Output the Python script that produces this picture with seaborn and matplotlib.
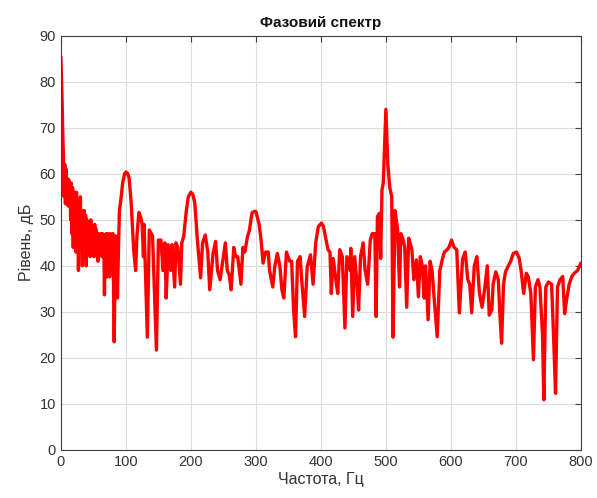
import numpy as np
import pandas as pd
import matplotlib
matplotlib.use("Agg")
import matplotlib.pyplot as plt
import seaborn as sns

# Values (frequency, Hz / level, dB)
freq = [
    0, 2, 3, 4, 5, 6, 7, 8, 9, 10, 11, 12, 13, 14, 15, 16, 17, 18, 19, 20,
    21, 22, 23, 24, 25, 26, 27, 28, 29, 30, 31, 32, 33, 34, 35, 36, 37, 38, 39, 40,
    41, 42, 43, 44, 45, 46, 47, 48, 49, 50, 51, 52, 53, 54, 55, 56, 57, 58, 59, 60,
    61, 62, 63, 64, 65, 66, 67, 68, 69, 70, 71, 72, 73, 74, 75, 76, 77, 78, 79, 80,
    81, 82, 83, 84, 85, 86, 87, 88, 90, 92, 95, 98, 100,
    103, 105, 108, 112, 115, 117, 120, 123, 125, 127, 128, 133, 136, 141, 147, 150, 154, 157, 160, 162,
    165, 169, 171, 175, 177, 180, 184, 186, 189, 193, 196, 200, 203, 206, 210, 215, 218, 222, 226, 229,
    234, 238, 241, 245, 248, 253, 256, 259, 262, 266, 269, 272, 277, 280, 283, 287, 290, 294, 297, 300,
    305, 308, 311, 315, 319, 321, 326, 329, 333, 337, 340, 343, 347, 352, 355, 358, 361, 364, 368, 371,
    375, 379, 384, 388, 392, 396, 401, 404, 407, 411, 414, 416, 419, 423, 426, 429, 433, 437, 440, 445,
    446, 449, 452, 456, 458, 461, 465, 468, 472, 476, 479, 483, 485, 487, 490, 492, 494, 496, 500, 503,
    506, 509, 511, 514, 518, 521, 523, 526, 529, 532, 535, 538, 540, 543, 547, 550, 553, 556, 559, 561,
    565, 568, 571, 575, 579, 583, 587, 590, 594, 597, 601, 605, 609, 613, 618, 622, 626, 629, 632, 636,
    640, 644, 648, 652, 656, 659, 663, 665, 669, 673, 675, 678, 681, 684, 688, 692, 696, 701, 705, 708,
    712, 716, 719, 723, 727, 730, 734, 737, 741, 743, 746, 750, 755, 758, 761, 764, 768, 772, 775, 778,
    782, 786, 790, 795, 800,
]
level = [
    85.4, 75, 68, 63.5, 55, 62, 53.5, 61, 55, 59, 53, 58.7, 55, 58, 50, 58, 47, 57, 44, 56,
    50, 55, 43, 56, 47, 54, 39, 53, 45, 55, 44, 52, 40, 51.5, 42, 52, 46, 51, 40, 50,
    44, 49, 43, 49, 42, 50, 45, 48, 43, 48, 42, 49, 44, 48, 43, 47, 41, 47, 43, 46,
    45, 47, 42, 47, 44, 46, 33.7, 46.7, 38, 47, 37.6, 47, 40, 46, 37.6, 47, 39, 46, 40, 47,
    36, 23.5, 35, 46.5, 40, 46, 33, 40, 52, 54, 58, 60, 60.4,
    60, 59, 54, 43.5, 39, 46.5, 51.6, 50.5, 49, 42, 49, 24.5, 47.8, 46.5, 21.7, 45.6, 45.6, 39, 45, 33,
    44.6, 39, 44.6, 35.4, 45, 44, 36, 45, 46.4, 52, 55, 56, 55.5, 53.7, 45.6, 37.4, 45, 46.7, 43, 34.8,
    42.6, 45.3, 39, 37, 40, 45, 39, 38, 34.8, 44, 42, 42, 36, 44, 43, 46.3, 47.7, 51.5, 51.8, 51.8,
    49, 45.6, 40.6, 43, 43, 39, 35.4, 39.8, 42.7, 39.8, 34.8, 33, 43, 41, 41, 30.4, 24.6, 41, 42, 36,
    29, 39.8, 42.4, 36, 45, 48.5, 49.3, 48.5, 46.3, 43.5, 43, 34, 41.6, 37, 34, 43.5, 42, 26.5, 42, 39,
    43.8, 29, 42, 35.4, 30.4, 42, 45, 39, 36, 45.6, 47, 47, 29, 50.7, 51.4, 41.6, 56.5, 58, 74, 62,
    57, 55, 24.5, 52, 48, 35.4, 47, 46, 44, 31, 46, 44.6, 43.5, 37, 41.3, 33.3, 42, 40, 33, 40,
    28.3, 41, 39, 31.6, 24.6, 39, 41.5, 43, 43.5, 44, 45.6, 44, 43.5, 29.8, 41.5, 43, 37, 36, 29.8, 40,
    42, 34, 31, 35, 40, 29.3, 30.5, 36, 38.7, 37, 30.5, 23.2, 36, 38.7, 39.9, 41, 42.7, 43, 41.7, 39,
    34, 38.4, 37.7, 34, 19.6, 35.4, 37, 35.4, 25, 10.9, 35.4, 36.5, 36, 24.6, 12.3, 35.4, 37, 37.7, 29.6, 32.6,
    36, 37.7, 38.4, 39, 40.6,
]

x_ticks = [0, 100, 200, 300, 400, 500, 600, 700, 800]
y_ticks = [0, 10, 20, 30, 40, 50, 60, 70, 80, 90]

df = pd.DataFrame({"freq": freq, "level": level})

sns.set_style("whitegrid")
plt.rcParams["font.family"] = ["Liberation Sans", "DejaVu Sans"]

fig = plt.figure(figsize=(5.97, 4.98), dpi=100)
ax = fig.add_axes([0.102, 0.0964, 0.871, 0.832])

sns.lineplot(data=df, x="freq", y="level", ax=ax, color="#ff0000", linewidth=2.4)

ax.set_xlim(0, 800)
ax.set_ylim(0, 90)
ax.set_xticks(x_ticks)
ax.set_yticks(y_ticks)
ax.grid(True, color="#dcdcdc", linewidth=0.8)
for side in ["left", "right", "top", "bottom"]:
    ax.spines[side].set_visible(True)
    ax.spines[side].set_color("#404040")
    ax.spines[side].set_linewidth(0.8)
ax.tick_params(axis="both", direction="in", length=4, width=0.8, colors="#404040",
               labelcolor="#333333", labelsize=10.5, top=True, right=True)

ax.set_title("Фазовий спектр", fontsize=11, fontweight="bold", color="#111111", pad=6)
ax.set_xlabel("Частота, Гц", fontsize=11.5, color="#333333", labelpad=2)
ax.set_ylabel("Рівень, дБ", fontsize=11.5, color="#333333", labelpad=4)

plt.savefig("out.png", dpi=100)
